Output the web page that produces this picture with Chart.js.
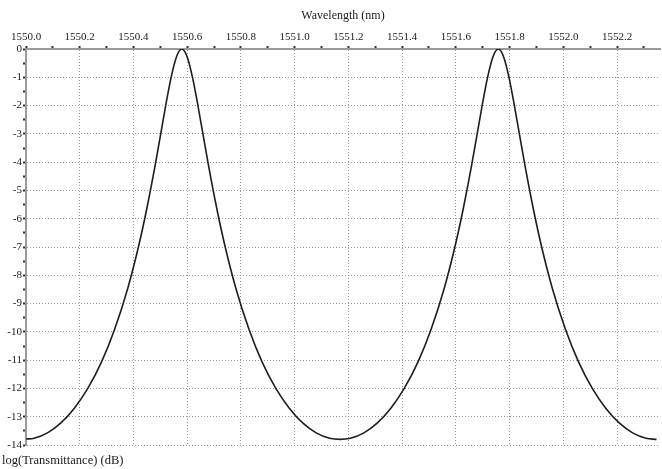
<!DOCTYPE html>
<html>
<head>
<meta charset="utf-8">
<script src="https://cdn.jsdelivr.net/npm/chart.js@4/dist/chart.umd.min.js"></script>
<style>
  html, body { margin: 0; padding: 0; background: #fff; }
  #wrap { width: 662px; height: 469px; }
  canvas { background: #fff; }
</style>
</head>
<body>
<div id="wrap"><canvas id="c" width="662" height="469"></canvas></div>
<script>
// Wavelength samples (nm)
const wavelength = [
  1550.00, 1550.03, 1550.08, 1550.13, 1550.18, 1550.23, 1550.28, 1550.33, 1550.38,
  1550.42, 1550.45, 1550.48, 1550.50, 1550.52, 1550.54, 1550.56, 1550.58,
  1550.60, 1550.62, 1550.64, 1550.66, 1550.68, 1550.71, 1550.74, 1550.78,
  1550.83, 1550.88, 1550.93, 1550.98, 1551.03, 1551.08, 1551.13, 1551.169,
  1551.208, 1551.258, 1551.308, 1551.358, 1551.408, 1551.458, 1551.508, 1551.558,
  1551.598, 1551.628, 1551.658, 1551.678, 1551.698, 1551.718, 1551.738, 1551.758,
  1551.778, 1551.798, 1551.818, 1551.838, 1551.858, 1551.888, 1551.918, 1551.958,
  1552.008, 1552.058, 1552.108, 1552.158, 1552.208, 1552.258, 1552.308, 1552.347
];
// log(Transmittance) (dB)
const transmittance = [
  -13.79, -13.76, -13.57, -13.22, -12.70, -12.00, -11.09, -9.91, -8.42,
  -6.94, -5.63, -4.15, -3.08, -2.00, -1.01, -0.28, 0.00,
  -0.28, -1.01, -2.00, -3.08, -4.15, -5.63, -6.94, -8.42,
  -9.91, -11.09, -12.00, -12.70, -13.22, -13.57, -13.76, -13.80,
  -13.76, -13.57, -13.22, -12.70, -12.00, -11.09, -9.91, -8.42,
  -6.94, -5.63, -4.15, -3.08, -2.00, -1.01, -0.28, 0.00,
  -0.28, -1.01, -2.00, -3.08, -4.15, -5.63, -6.94, -8.42,
  -9.91, -11.09, -12.00, -12.70, -13.22, -13.57, -13.76, -13.80
];
// Tick labels
const xMajorTicks = [1550.0, 1550.2, 1550.4, 1550.6, 1550.8, 1551.0, 1551.2, 1551.4, 1551.6, 1551.8, 1552.0, 1552.2];
const xMinorTicks = [1550.1, 1550.3, 1550.5, 1550.7, 1550.9, 1551.1, 1551.3, 1551.5, 1551.7, 1551.9, 1552.1, 1552.3];
const yMajorTicks = [0, -1, -2, -3, -4, -5, -6, -7, -8, -9, -10, -11, -12, -13, -14];
const yMinorTicks = [-0.5, -1.5, -2.5, -3.5, -4.5, -5.5, -6.5, -7.5, -8.5, -9.5, -10.5, -11.5, -12.5, -13.5];

const xTitle = 'Wavelength (nm)';
const yTitle = 'log(Transmittance) (dB)';

function isIn(list, v) { return list.some(t => Math.abs(t - v) < 1e-6); }

const points = wavelength.map((w, i) => ({ x: w, y: transmittance[i] }));
const FONT = "'Liberation Serif', 'DejaVu Serif', serif";

new Chart(document.getElementById('c'), {
  type: 'line',
  data: {
    datasets: [{
      data: points,
      borderColor: '#1e1e1e',
      borderWidth: 1.6,
      pointRadius: 0,
      fill: false,
      cubicInterpolationMode: 'monotone'
    }]
  },
  options: {
    responsive: false,
    animation: false,
    layout: { padding: { left: 2, right: 2, top: 0, bottom: 0 } },
    plugins: {
      legend: { display: false },
      tooltip: { enabled: false },
      title: {
        display: true,
        text: yTitle,
        position: 'bottom',
        align: 'start',
        color: '#1a1a1a',
        font: { family: FONT, size: 12.5, weight: 'normal' },
        padding: { top: 8, bottom: 1 }
      }
    },
    scales: {
      x: {
        type: 'linear',
        position: 'top',
        min: 1550.0,
        max: 1552.36,
        afterBuildTicks: s => { s.ticks = xMajorTicks.concat(xMinorTicks).sort((a, b) => a - b).map(v => ({ value: v })); },
        afterFit: s => { s.height = 49; },
        title: {
          display: true,
          text: xTitle,
          color: '#1a1a1a',
          font: { family: FONT, size: 12 },
          padding: { top: 9, bottom: 0 }
        },
        ticks: {
          autoSkip: false,
          maxRotation: 0,
          padding: 2,
          color: '#1a1a1a',
          font: { family: FONT, size: 11 },
          callback: v => isIn(xMajorTicks, v) ? v.toFixed(1) : ''
        },
        grid: {
          color: ctx => (ctx.tick && isIn(xMajorTicks, ctx.tick.value)) ? '#9a9a9a' : 'rgba(0,0,0,0)',
          lineWidth: 1,
          drawTicks: true,
          tickLength: 3,
          tickWidth: 2,
          tickColor: '#333',
          tickBorderDash: []
        },
        border: { display: true, color: '#9a9a9a', width: 2, dash: [1, 2] }
      },
      y: {
        type: 'linear',
        min: -14,
        max: 0,
        afterBuildTicks: s => { s.ticks = yMajorTicks.concat(yMinorTicks).sort((a, b) => a - b).map(v => ({ value: v })); },
        afterFit: s => { s.width = 24; },
        ticks: {
          autoSkip: false,
          padding: 1,
          color: '#1a1a1a',
          font: { family: FONT, size: 11 },
          callback: v => isIn(yMajorTicks, v) ? String(v) : ''
        },
        grid: {
          color: ctx => (ctx.tick && isIn(yMajorTicks, ctx.tick.value) && ctx.tick.value !== 0) ? '#9a9a9a' : 'rgba(0,0,0,0)',
          lineWidth: 1,
          drawTicks: true,
          tickLength: 3,
          tickWidth: 2,
          tickColor: '#333',
          tickBorderDash: []
        },
        border: { display: true, color: '#9a9a9a', width: 2, dash: [1, 2] }
      }
    }
  }
});
</script>
</body>
</html>
